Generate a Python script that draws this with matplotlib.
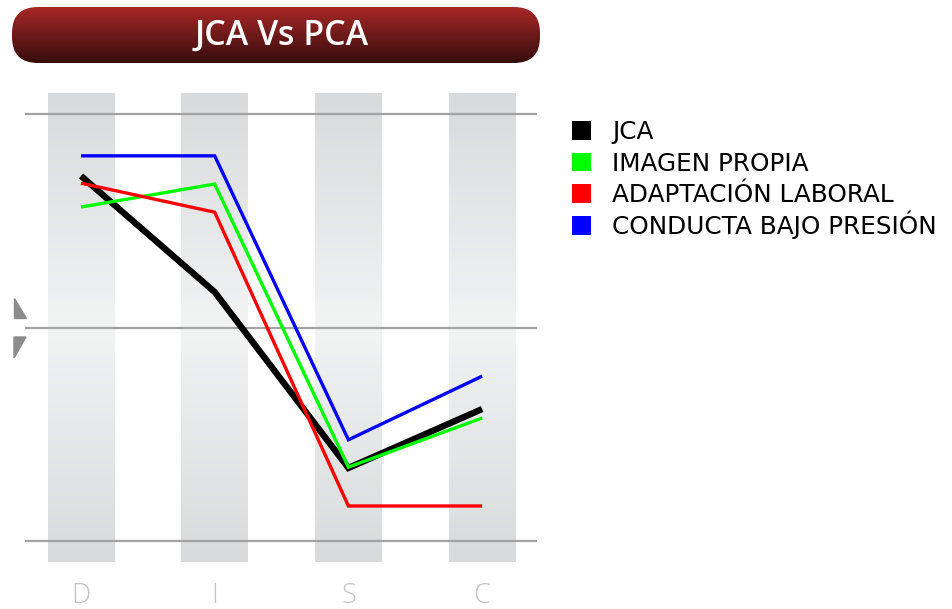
import numpy as np
import matplotlib.pyplot as plt
from matplotlib.patches import FancyBboxPatch, Polygon, Rectangle
from matplotlib.colors import LinearSegmentedColormap

# DISC profile scores (0-100 scale)
factors = ['D', 'I', 'S', 'C']
jca = [85.5, 58.3, 17.1, 30.9]
imagen_propia = [78.2, 83.6, 17.3, 28.8]
adaptacion_laboral = [83.8, 77.0, 8.2, 8.2]
conducta_bajo_presion = [90.2, 90.2, 23.7, 38.6]

series = [
    ('JCA', jca, '#000000', 4.6),
    ('IMAGEN PROPIA', imagen_propia, '#00ff00', 2.4),
    ('ADAPTACIÓN LABORAL', adaptacion_laboral, '#ff0000', 2.4),
    ('CONDUCTA BAJO PRESIÓN', conducta_bajo_presion, '#0000ff', 2.4),
]

W, H = 952, 609
fig = plt.figure(figsize=(W / 100, H / 100), dpi=100)

# pixel layout of the plot area
x0_px, dx_px = 81, 133.7          # first category centre, spacing
y0_px, dy_px = 541, 4.27          # baseline (value 0), pixels per unit

# background axes in pixel units (origin top-left) for banner, arrows, legend
bax = fig.add_axes([0, 0, 1, 1], zorder=-1)
bax.set_xlim(0, W)
bax.set_ylim(H, 0)
bax.axis('off')

ax = fig.add_axes([0, 0, 1, 1])
ax.set_xlim(-x0_px / dx_px, (W - x0_px) / dx_px)
ax.set_ylim((y0_px - H) / dy_px, y0_px / dy_px)
ax.axis('off')
ax.patch.set_visible(False)

# shaded columns behind each factor
grad = np.concatenate([np.linspace(0, 1, 50), np.linspace(1, 0, 50)])
cmap = LinearSegmentedColormap.from_list('band', ['#d9dadb', '#f2f3f3'])
band_top = (y0_px - 93) / dy_px
band_bot = (y0_px - 562) / dy_px
for i in range(len(factors)):
    ax.imshow(grad[:, None], cmap=cmap, aspect='auto', zorder=0,
              extent=[i - 0.25, i + 0.25, band_bot, band_top], vmin=0, vmax=1)

# reference lines
for v in [0, 50, 100]:
    ax.plot([-0.42, 3.41], [v, v], color='#a3a3a3', lw=1.6, zorder=1, solid_capstyle='butt')

# small arrows marking the mid line
bax.add_patch(Polygon([(14, 298), (14, 318), (26, 318)], closed=True, color='#8c8c8c'))
bax.add_patch(Polygon([(14, 337), (26, 337), (14, 358)], closed=True, color='#8c8c8c'))

xs = np.arange(len(factors))
for name, vals, color, lw in series:
    ax.plot(xs, vals, color=color, lw=lw, zorder=3, solid_joinstyle='miter',
            solid_capstyle='butt')

for i, f in enumerate(factors):
    ax.text(i, (y0_px - 596) / dy_px, f, ha='center', va='center', color='#c4c4c4',
            fontsize=19.5, family='Open Sans', fontweight='light')

# title banner with vertical gradient
bx, by, bw, bh = 12, 7, 528, 56
banner = FancyBboxPatch((bx, by), bw, bh, boxstyle='round,pad=0,rounding_size=26',
                        facecolor='none', edgecolor='none')
bax.add_patch(banner)
tcmap = LinearSegmentedColormap.from_list('title', ['#a72726', '#360d0d'])
img = bax.imshow(np.linspace(0, 1, 100)[:, None], cmap=tcmap, aspect='auto',
                 extent=[bx, bx + bw, by + bh, by])
img.set_clip_path(banner)
bax.text(282, 36, 'JCA Vs PCA', color='white', fontsize=24.5, family='Open Sans',
         fontweight='semibold', ha='center', va='center')

# legend: colour squares with labels
for k, (name, _, color, _) in enumerate(series):
    y = 121 + 31.7 * k
    bax.add_patch(Rectangle((572, y), 19, 18.5, facecolor=color, edgecolor='none'))
    bax.text(612, y + 18, name, color='black', fontsize=17.8, family='DejaVu Sans',
             ha='left', va='baseline')

fig.savefig('out.png', dpi=100)
